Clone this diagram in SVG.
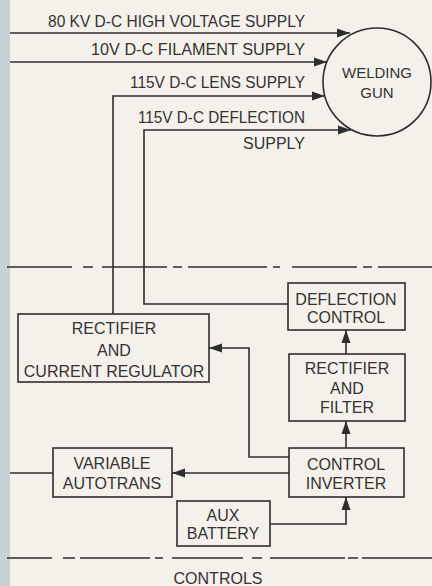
<svg xmlns="http://www.w3.org/2000/svg" width="432" height="586" viewBox="0 0 432 586">
<style>
.t{font-family:"Liberation Sans",Arial,sans-serif;font-size:16px;fill:#333;}
.m{text-anchor:middle;}
.e{text-anchor:end;}
.box{fill:none;stroke:#2e2e2e;stroke-width:1.6;}
.c{fill:none;stroke:#2e2e2e;stroke-width:1.6;}
.d{fill:none;stroke:#2e2e2e;stroke-width:1.4;}
</style>
<defs>
<marker id="ah" markerUnits="userSpaceOnUse" markerWidth="13" markerHeight="10" refX="13" refY="5" orient="auto">
<path d="M0,0.5 L13,5 L0,9.5 z" fill="#2e2e2e"/>
</marker>
</defs>
<rect x="0" y="0" width="432" height="586" fill="#f3f1ea"/>
<rect x="0" y="0" width="10" height="586" fill="#c8d2d6"/>

<g id="dashes">
<path class="d" d="M7,267 H72 M83,267 H93 M102,267 H167 M173,267 H182 M188,267 H267 M273,267 H280 M292,267 H357 M363,267 H372 M378,267 H432"/>
<path class="d" d="M7,558 H52 M63,558 H75 M80,558 H150 M155,558 H163 M172,558 H243 M252,558 H262 M270,558 H345 M348,558 H358 M362,558 H432"/>
</g>

<g id="connectors">
<path class="c" d="M10,33 H350" marker-end="url(#ah)"/>
<path class="c" d="M10,62 H327" marker-end="url(#ah)"/>
<path class="c" d="M113,314 V96 H325" marker-end="url(#ah)"/>
<path class="c" d="M288,304 H144 V130 H351" marker-end="url(#ah)"/>
<path class="c" d="M346,354 V330" marker-end="url(#ah)"/>
<path class="c" d="M346,448 V421" marker-end="url(#ah)"/>
<path class="c" d="M289,457 H249 V348 H209" marker-end="url(#ah)"/>
<path class="c" d="M289,473 H172" marker-end="url(#ah)"/>
<path class="c" d="M53,473 H10"/>
<path class="c" d="M270,524 H346 V497" marker-end="url(#ah)"/>
</g>

<g id="labels">
<text class="t e" x="305" y="27" textLength="257" lengthAdjust="spacingAndGlyphs">80 KV D-C HIGH VOLTAGE SUPPLY</text>
<text class="t e" x="305" y="55" textLength="214" lengthAdjust="spacingAndGlyphs">10V D-C FILAMENT SUPPLY</text>
<text class="t e" x="305" y="88" textLength="175" lengthAdjust="spacingAndGlyphs">115V D-C LENS SUPPLY</text>
<text class="t e" x="305" y="123" textLength="167" lengthAdjust="spacingAndGlyphs">115V D-C DEFLECTION</text>
<text class="t e" x="305" y="149">SUPPLY</text>
</g>

<g id="gun">
<circle cx="377" cy="82" r="54" class="box"/>
<text class="t m" x="377" y="78" style="font-size:15px">WELDING</text>
<text class="t m" x="377" y="98" style="font-size:15px">GUN</text>
</g>

<g id="deflection-control">
<rect class="box" x="288" y="283" width="117" height="47"/>
<text class="t m" x="346" y="305">DEFLECTION</text>
<text class="t m" x="346" y="323">CONTROL</text>
</g>

<g id="rectifier-current-regulator">
<rect class="box" x="18" y="314" width="191" height="68"/>
<text class="t m" x="114" y="334">RECTIFIER</text>
<text class="t m" x="114" y="356">AND</text>
<text class="t m" x="114" y="377">CURRENT REGULATOR</text>
</g>

<g id="rectifier-filter">
<rect class="box" x="289" y="354" width="116" height="67"/>
<text class="t m" x="347" y="374">RECTIFIER</text>
<text class="t m" x="347" y="394">AND</text>
<text class="t m" x="347" y="413">FILTER</text>
</g>

<g id="control-inverter">
<rect class="box" x="289" y="448" width="115" height="49"/>
<text class="t m" x="346" y="470">CONTROL</text>
<text class="t m" x="346" y="489">INVERTER</text>
</g>

<g id="variable-autotrans">
<rect class="box" x="53" y="448" width="119" height="49"/>
<text class="t m" x="112" y="469">VARIABLE</text>
<text class="t m" x="112" y="489">AUTOTRANS</text>
</g>

<g id="aux-battery">
<rect class="box" x="177" y="501" width="93" height="45"/>
<text class="t m" x="223" y="521">AUX</text>
<text class="t m" x="223" y="539">BATTERY</text>
</g>

<text class="t m" x="218" y="584">CONTROLS</text>
</svg>
